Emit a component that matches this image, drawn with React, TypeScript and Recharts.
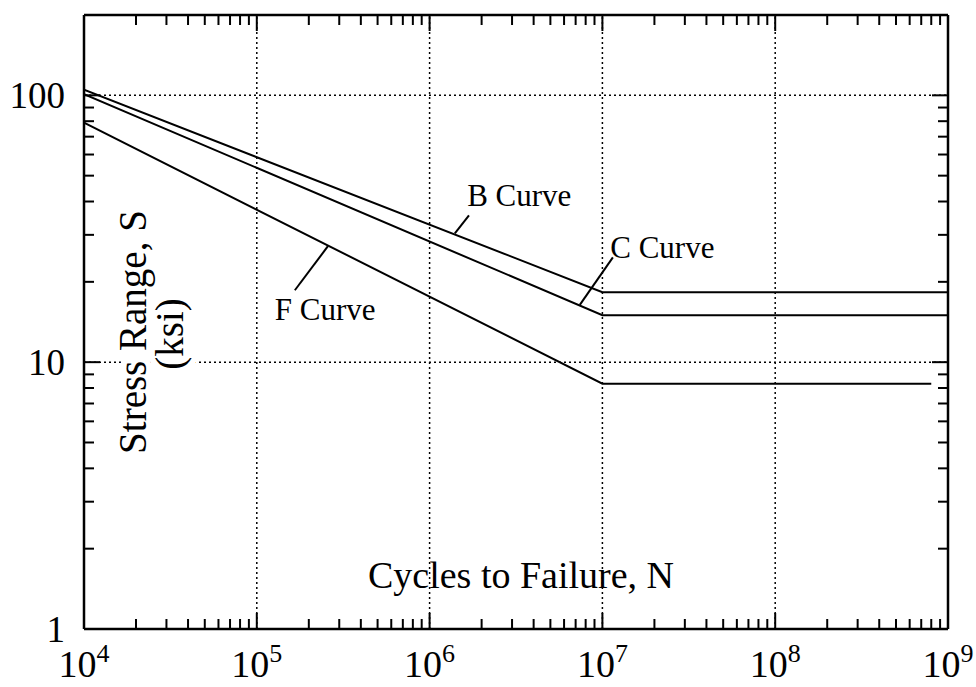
import { LineChart, Line, XAxis, YAxis, ReferenceLine, ReferenceDot } from 'recharts';

const FONT = '"Liberation Serif", "Times New Roman", serif';

// S-N curves: cycles to failure (N) vs stress range (ksi)
const cyclesB = [1e4, 1e7, 1e9];
const stressB = [105, 18.3, 18.3];
const cyclesC = [1e4, 1e7, 1e9];
const stressC = [101, 15.0, 15.0];
const cyclesF = [1e4, 1e7, 8e8];
const stressF = [79, 8.3, 8.3];

// axes
const xDecades = [1e4, 1e5, 1e6, 1e7, 1e8, 1e9];
const yDecades = [1, 10, 100];
const xGrid = [1e5, 1e6, 1e7, 1e8];
const yGrid = [10, 100];
const yLabels = ['1', '10', '100'];

// curve call-outs (data coords)
const calloutText = ['B Curve', 'C Curve', 'F Curve'];
const calloutAt = [
  { x: 1.65e6, y: 38.4 },
  { x: 1.11e7, y: 24.5 },
  { x: 1.27e5, y: 14.4 },
];
const leaders = [
  [{ x: 1.69e6, y: 35.5 }, { x: 1.4e6, y: 30.4 }],
  [{ x: 1.15e7, y: 24.7 }, { x: 7.4e6, y: 16.4 }],
  [{ x: 1.66e5, y: 18.6 }, { x: 2.58e5, y: 27.2 }],
];

const withMinors = (decades: number[]) => {
  const out: number[] = [];
  decades.forEach((d, i) => {
    if (i === decades.length - 1) {
      out.push(d);
      return;
    }
    for (let k = 1; k <= 9; k++) out.push(d * k);
  });
  return out;
};
const xTicks = withMinors(xDecades);
const yTicks = withMinors(yDecades);

const toRows = (n: number[], s: number[]) => n.map((v, i) => ({ n: v, s: s[i] }));
const dataB = toRows(cyclesB, stressB);
const dataC = toRows(cyclesC, stressC);
const dataF = toRows(cyclesF, stressF);

const MAJOR = 16;
const MINOR = 10;
const isDecade = (v: number) => Math.abs(Math.log10(v) - Math.round(Math.log10(v))) < 1e-6;

function BottomTick({ x, y, payload }: any) {
  const v = payload.value;
  const major = isDecade(v);
  return (
    <g>
      <line x1={x} x2={x} y1={y} y2={y - (major ? MAJOR : MINOR)} stroke="#000" strokeWidth={2} />
      {major && (
        <text x={x} y={y + 48} textAnchor="middle" fontFamily={FONT} fontSize={38} fill="#000">
          10
          <tspan dy={-15} fontSize={26}>
            {Math.round(Math.log10(v))}
          </tspan>
        </text>
      )}
    </g>
  );
}

function TopTick({ x, y, payload }: any) {
  const major = isDecade(payload.value);
  return <line x1={x} x2={x} y1={y} y2={y + (major ? MAJOR : MINOR)} stroke="#000" strokeWidth={2} />;
}

function LeftTick({ x, y, payload }: any) {
  const v = payload.value;
  const major = isDecade(v);
  const idx = yDecades.findIndex((d) => Math.abs(d - v) < 1e-9);
  return (
    <g>
      <line x1={x} x2={x + (major ? MAJOR : MINOR)} y1={y} y2={y} stroke="#000" strokeWidth={2} />
      {idx >= 0 && (
        <text x={x - 19} y={y} textAnchor="end" dominantBaseline="central" fontFamily={FONT} fontSize={37} fill="#000">
          {yLabels[idx]}
        </text>
      )}
    </g>
  );
}

function RightTick({ x, y, payload }: any) {
  const major = isDecade(payload.value);
  return <line x1={x} x2={x - (major ? MAJOR : MINOR)} y1={y} y2={y} stroke="#000" strokeWidth={2} />;
}

const halo = { paintOrder: 'stroke', stroke: '#fff', strokeWidth: 12, strokeLinejoin: 'round' } as any;

const yTitle = (props: any) => {
  const { x, y } = props.viewBox;
  const cy = y + 317;
  return (
    <g fontFamily={FONT} fill="#000">
      <text transform={`translate(${x + 146}, ${cy}) rotate(-90)`} textAnchor="middle" fontSize={39} style={halo}>
        Stress Range, S
      </text>
      <text transform={`translate(${x + 183}, ${cy + 2}) rotate(-90)`} textAnchor="middle" fontSize={39} style={halo}>
        (ksi)
      </text>
    </g>
  );
};

const xTitle = (props: any) => {
  const { x, y } = props.viewBox;
  return (
    <text x={x + 437} y={y - 41} textAnchor="middle" fontFamily={FONT} fontSize={38} fill="#000">
      Cycles to Failure, N
    </text>
  );
};

const callout = (text: string) => (props: any) => {
  const { x, y } = props.viewBox;
  return (
    <text x={x} y={y} fontFamily={FONT} fontSize={31} fill="#000">
      {text}
    </text>
  );
};

const axisLine = { stroke: '#000', strokeWidth: 2.5 };
const gridStyle = { stroke: '#000', strokeWidth: 1.5, strokeDasharray: '2 3' };

export default function App() {
  return (
    <div style={{ position: 'absolute', left: 0, top: 0, width: 976, height: 687, background: '#fff' }}>
      <LineChart width={976} height={687} margin={{ top: 0, right: 0, bottom: 0, left: 0 }}>
        {xGrid.map((v) => (
          <ReferenceLine key={`gx-${v}`} x={v} {...gridStyle} />
        ))}
        {yGrid.map((v) => (
          <ReferenceLine key={`gy-${v}`} y={v} {...gridStyle} />
        ))}

        <XAxis
          dataKey="n"
          type="number"
          scale="log"
          domain={[1e4, 1e9]}
          allowDataOverflow
          ticks={xTicks}
          interval={0}
          tickSize={0}
          tickMargin={0}
          tickLine={false}
          tick={BottomTick}
          axisLine={axisLine}
          height={58}
          label={xTitle}
        />
        <XAxis
          xAxisId="top"
          orientation="top"
          dataKey="n"
          type="number"
          scale="log"
          domain={[1e4, 1e9]}
          allowDataOverflow
          ticks={xTicks}
          interval={0}
          tickSize={0}
          tickMargin={0}
          tickLine={false}
          tick={TopTick}
          axisLine={axisLine}
          height={15}
        />
        <YAxis
          type="number"
          scale="log"
          domain={[1, 200]}
          allowDataOverflow
          ticks={yTicks}
          interval={0}
          tickSize={0}
          tickMargin={0}
          tickLine={false}
          tick={LeftTick}
          axisLine={axisLine}
          width={84}
          label={yTitle}
        />
        <YAxis
          yAxisId="right"
          orientation="right"
          type="number"
          scale="log"
          domain={[1, 200]}
          allowDataOverflow
          ticks={yTicks}
          interval={0}
          tickSize={0}
          tickMargin={0}
          tickLine={false}
          tick={RightTick}
          axisLine={axisLine}
          width={28}
        />

        <Line data={dataB} dataKey="s" stroke="#000" strokeWidth={2} dot={false} isAnimationActive={false} />
        <Line data={dataC} dataKey="s" stroke="#000" strokeWidth={2} dot={false} isAnimationActive={false} />
        <Line data={dataF} dataKey="s" stroke="#000" strokeWidth={2} dot={false} isAnimationActive={false} />

        {leaders.map((seg, i) => (
          <ReferenceLine key={`ld-${i}`} segment={seg} stroke="#000" strokeWidth={2} />
        ))}
        {calloutText.map((t, i) => (
          <ReferenceDot
            key={`co-${i}`}
            x={calloutAt[i].x}
            y={calloutAt[i].y}
            r={0}
            fill="none"
            stroke="none"
            label={callout(t)}
          />
        ))}
      </LineChart>
    </div>
  );
}
